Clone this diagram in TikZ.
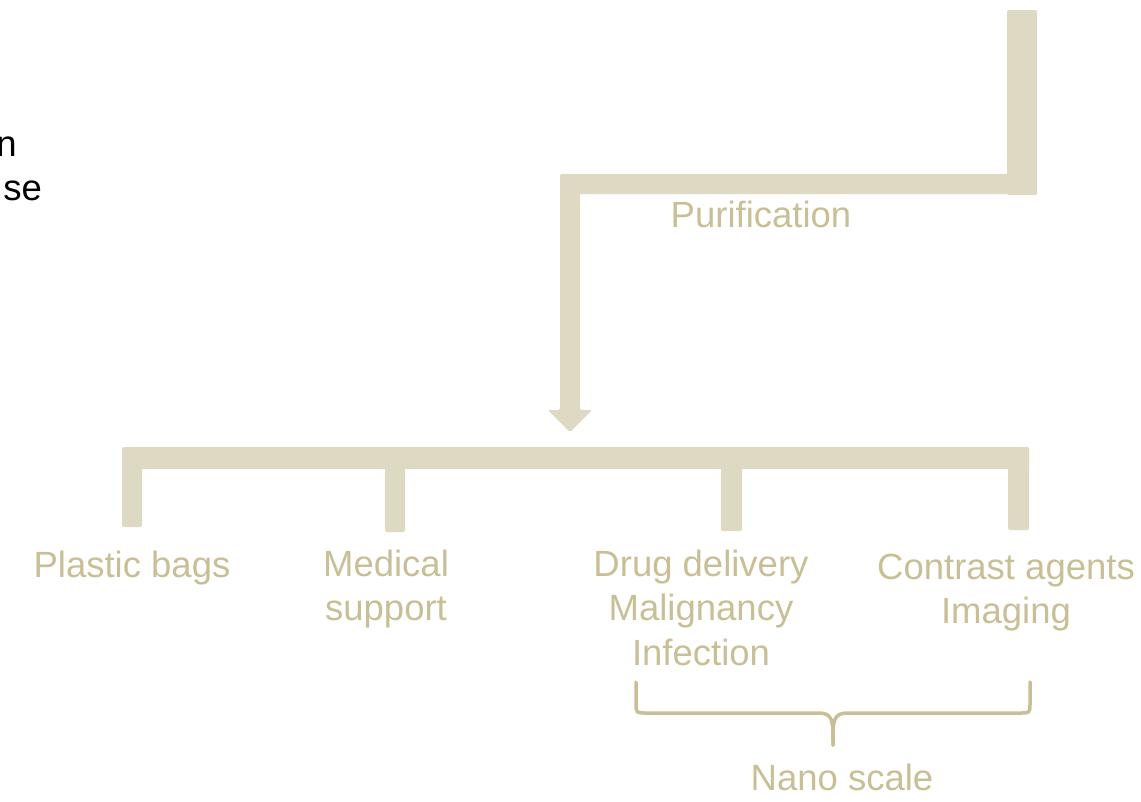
\documentclass[tikz,border=0pt]{standalone}
\usepackage{fontspec}
\setmainfont{Liberation Sans}
\definecolor{barc}{RGB}{222,217,194}
\definecolor{txtc}{RGB}{200,191,150}
\definecolor{bracec}{RGB}{200,191,150}
\tikzset{
  bar/.style={fill=barc, draw=none, rounded corners=1.5pt},
  lbl/.style={text=txtc, inner sep=0pt, font=\fontsize{36.5}{44.5}\selectfont, align=center, anchor=base},
  blk/.style={text=black, inner sep=0pt, font=\fontsize{36.5}{44.5}\selectfont, anchor=base east},
  bracepath/.style={draw=bracec, line width=3.5pt, line cap=round, line join=round}
}
\begin{document}
\begin{tikzpicture}[x=1pt,y=-1pt]
\useasboundingbox (0,0) rectangle (1141,801);
\clip (0,0) rectangle (1141,801);
% clipped black text at left
\node[blk] (tn) at (17,156) {n};
\node[blk] (tse) at (42,200) {se};
% top connector
\fill[bar] (1007,10) rectangle (1037,195);
\fill[bar] (560,174) rectangle (1010,194);
\fill[bar] (560,174) -- (580,174) -- (580,410) -- (592,410) -- (570,432) -- (548,410) -- (560,410) -- cycle;
\coordinate (arrowtip) at (570,432);
\node[lbl] (purif) at (761,227) {Purification};
% bottom bracket
\fill[bar] (122,447) rectangle (1029,469);
\fill[bar] (122,447) rectangle (142,527);
\fill[bar] (385,460) rectangle (405,532);
\fill[bar] (721,460) rectangle (742,531);
\fill[bar] (1008,447) rectangle (1029,530);
% labels (base anchor = baseline of the last line)
\node[lbl] (plastic) at (132,577) {Plastic bags};
\node[lbl] (medical) at (386,620.5) {Medical\\support};
\node[lbl] (drug) at (701,665) {Drug delivery\\Malignancy\\Infection};
\node[lbl] (contrast) at (1006,623.5) {Contrast agents\\Imaging};
% brace
\draw[bracepath] (636,682) -- (636,703) .. controls (636,713) .. (646,713) -- (818,713) .. controls (833,713) and (833,720) .. (833,745);
\draw[bracepath] (1030,682) -- (1030,703) .. controls (1030,713) .. (1020,713) -- (848,713) .. controls (833,713) and (833,720) .. (833,745);
\node[lbl] (nano) at (842,790) {Nano scale};
\end{tikzpicture}
\end{document}
